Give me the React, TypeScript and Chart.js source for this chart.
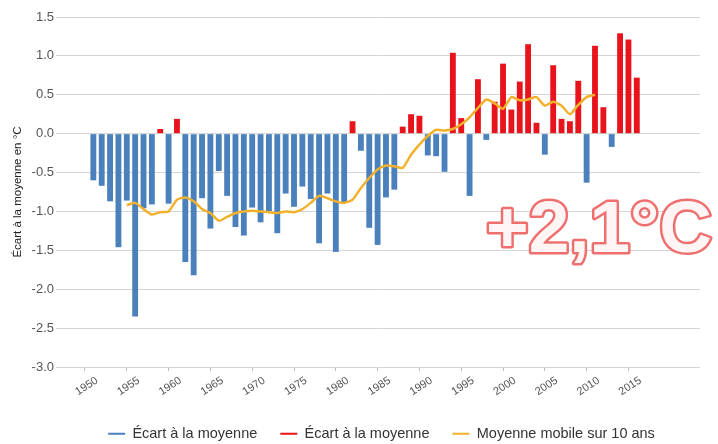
import React, { useEffect, useRef } from 'react';
import { Chart, registerables } from 'chart.js';

Chart.register(...registerables);

const years = [
  1951, 1952, 1953, 1954, 1955, 1956, 1957, 1958, 1959, 1960,
  1961, 1962, 1963, 1964, 1965, 1966, 1967, 1968, 1969, 1970,
  1971, 1972, 1973, 1974, 1975, 1976, 1977, 1978, 1979, 1980,
  1981, 1982, 1983, 1984, 1985, 1986, 1987, 1988, 1989, 1990,
  1991, 1992, 1993, 1994, 1995, 1996, 1997, 1998, 1999, 2000,
  2001, 2002, 2003, 2004, 2005, 2006, 2007, 2008, 2009, 2010,
  2011, 2012, 2013, 2014, 2015, 2016,
];

const anomalies = [
  -0.6, -0.67, -0.87, -1.46, -0.86, -2.35, -0.96, -0.91, 0.06, -0.9,
  0.19, -1.65, -1.82, -0.83, -1.22, -0.48, -0.8, -1.2, -1.31, -0.95,
  -1.14, -1.0, -1.28, -0.77, -0.94, -0.68, -0.84, -1.41, -0.77, -1.52,
  -0.89, 0.16, -0.22, -1.21, -1.43, -0.82, -0.72, 0.09, 0.25, 0.23,
  -0.28, -0.29, -0.49, 1.04, 0.2, -0.8, 0.7, -0.08, 0.41, 0.9,
  0.31, 0.67, 1.15, 0.14, -0.27, 0.88, 0.19, 0.16, 0.68, -0.63,
  1.13, 0.34, -0.17, 1.29, 1.21, 0.72,
];

const maYears = [
  1955, 1956, 1957, 1958, 1959, 1960, 1961, 1962, 1963, 1964,
  1965, 1966, 1967, 1968, 1969, 1970, 1971, 1972, 1973, 1974,
  1975, 1976, 1977, 1978, 1979, 1980, 1981, 1982, 1983, 1984,
  1985, 1986, 1987, 1988, 1989, 1990, 1991, 1992, 1993, 1994,
  1995, 1996, 1997, 1998, 1999, 2000, 2001, 2002, 2003, 2004,
  2005, 2006, 2007, 2008, 2009, 2010, 2011,
];

const movingAvg = [
  -0.92, -0.89, -0.97, -1.04, -1.01, -1.0, -0.85, -0.82, -0.87, -0.97,
  -1.02, -1.12, -1.07, -1.02, -1.0, -0.99, -1.0, -1.01, -1.02, -1.0,
  -1.01, -0.97, -0.89, -0.8, -0.83, -0.87, -0.89, -0.85, -0.7, -0.57,
  -0.46, -0.41, -0.42, -0.44, -0.27, -0.14, -0.03, 0.05, 0.04, 0.06,
  0.12, 0.21, 0.33, 0.44, 0.39, 0.32, 0.47, 0.43, 0.44, 0.47,
  0.36, 0.41, 0.36, 0.25, 0.37, 0.47, 0.5,
];

const tickYears = [
  1950, 1955, 1960, 1965, 1970, 1975, 1980, 1985, 1990, 1995, 2000, 2005, 2010, 2015,
];

const seriesLabels = ['Écart à la moyenne', 'Écart à la moyenne', 'Moyenne mobile sur 10 ans'];
const yAxisTitle = 'Écart à la moyenne en °C';
const bigText = '+2,1°C';

const BLUE = '#4a80bb';
const RED = '#e8131b';
const YELLOW = '#f2b12c';
const FONT = '"Liberation Sans", Arial, sans-serif';

const bigTextPlugin = {
  id: 'bigText',
  afterDraw(chart: any) {
    const ctx = chart.ctx;
    ctx.save();
    ctx.font = `bold 73px ${FONT}`;
    ctx.textAlign = 'left';
    ctx.textBaseline = 'alphabetic';
    ctx.lineJoin = 'round';
    ctx.strokeStyle = '#ef6f6f';
    ctx.lineWidth = 5;
    ctx.strokeText(bigText, 486, 252);
    ctx.fillStyle = '#fff5f5';
    ctx.fillText(bigText, 486, 252);
    ctx.restore();
  },
};

export default function App() {
  const ref = useRef<HTMLCanvasElement | null>(null);

  useEffect(() => {
    document.body.style.margin = '0';
    if (!ref.current) return;
    Chart.defaults.font.family = FONT;

    const blueData = years.map((x, i) => ({ x, y: anomalies[i] < 0 ? anomalies[i] : null }));
    const redData = years.map((x, i) => ({ x, y: anomalies[i] >= 0 ? anomalies[i] : null }));
    const maData = maYears.map((x, i) => ({ x, y: movingAvg[i] }));

    const defaultGen = (Chart.defaults as any).plugins.legend.labels.generateLabels;

    const chart = new Chart(ref.current, {
      type: 'bar',
      data: {
        datasets: [
          {
            type: 'bar',
            label: seriesLabels[0],
            data: blueData as any,
            backgroundColor: BLUE,
            borderWidth: 0,
            grouped: false,
            categoryPercentage: 1,
            barPercentage: 0.7,
            order: 1,
          } as any,
          {
            type: 'bar',
            label: seriesLabels[1],
            data: redData as any,
            backgroundColor: RED,
            borderWidth: 0,
            grouped: false,
            categoryPercentage: 1,
            barPercentage: 0.7,
            order: 1,
          } as any,
          {
            type: 'line',
            label: seriesLabels[2],
            data: maData as any,
            borderColor: YELLOW,
            backgroundColor: YELLOW,
            borderWidth: 2.5,
            pointRadius: 0,
            tension: 0.2,
            order: 0,
          } as any,
        ],
      },
      options: {
        animation: false,
        responsive: false,
        layout: { padding: { top: 17, right: 18, bottom: -7, left: 0 } },
        plugins: {
          tooltip: { enabled: false },
          legend: {
            position: 'bottom',
            fullSize: false,
            labels: {
              boxWidth: 17,
              boxHeight: 2,
              padding: 23,
              color: '#333',
              font: { size: 14.5, family: FONT },
              sort: (a: any, b: any) => a.datasetIndex - b.datasetIndex,
              generateLabels: (c: any) =>
                defaultGen(c).map((l: any) => ({ ...l, lineWidth: 0 })),
            },
          },
        },
        scales: {
          x: {
            type: 'linear',
            offset: false,
            min: 1947.37,
            max: 2023.56,
            grid: {
              display: true,
              offset: false,
              drawOnChartArea: false,
              drawTicks: true,
              tickLength: 4,
              color: '#bbbbbb',
            },
            border: { display: false },
            afterBuildTicks: (axis: any) => {
              axis.ticks = tickYears.map((v) => ({ value: v }));
            },
            afterFit: (scale: any) => {
              scale.height = 36.5;
              scale.paddingLeft = 0;
              scale.paddingRight = 0;
            },
            ticks: {
              autoSkip: false,
              minRotation: 33,
              maxRotation: 33,
              labelOffset: 12,
              padding: 3,
              color: '#555',
              font: { size: 11, family: FONT },
              callback: (v: any) => String(v),
            },
          },
          y: {
            min: -3,
            max: 1.5,
            grid: {
              color: '#d4d4d4',
              lineWidth: 1,
              tickLength: 7,
            },
            border: { display: false },
            afterFit: (scale: any) => {
              scale.width = 63;
              scale.paddingTop = 0;
              scale.paddingBottom = 0;
            },
            title: {
              display: true,
              text: yAxisTitle,
              color: '#222',
              font: { size: 11.5, family: FONT },
              padding: { top: 11, bottom: 0 },
            },
            ticks: {
              stepSize: 0.5,
              padding: 2,
              color: '#555',
              font: { size: 13, family: FONT },
              callback: (v: any) => Number(v).toFixed(1),
            },
          },
        },
      } as any,
      plugins: [bigTextPlugin],
    });

    return () => chart.destroy();
  }, []);

  return (
    <div style={{ width: 718, height: 444 }}>
      <canvas ref={ref} width={718} height={444} style={{ display: 'block' }} />
    </div>
  );
}
